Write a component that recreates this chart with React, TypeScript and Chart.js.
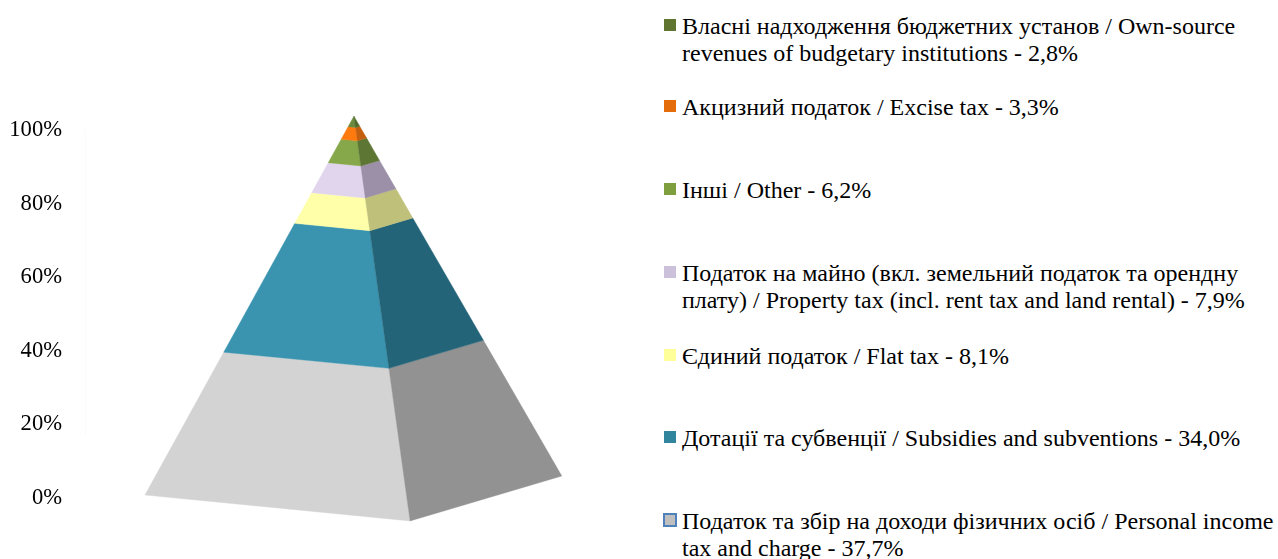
import React, { useEffect, useRef } from "react";
import { Chart, registerables } from "chart.js";

Chart.register(...registerables);

// Bottom of the pyramid first
const categories = [
  "Податок та збір на доходи фізичних осіб / Personal income tax and charge",
  "Дотації та субвенції / Subsidies and subventions",
  "Єдиний податок / Flat tax",
  "Податок на майно (вкл. земельний податок та орендну плату) / Property tax (incl. rent tax and land rental)",
  "Інші / Other",
  "Акцизний податок / Excise tax",
  "Власні надходження бюджетних установ / Own-source revenues of budgetary institutions",
];
const shares = [37.7, 34.0, 8.1, 7.9, 6.2, 3.3, 2.8];
const legendLines = [
  ["Податок та збір на доходи фізичних осіб / Personal income", "tax and charge - 37,7%"],
  ["Дотації та субвенції / Subsidies and subventions - 34,0%"],
  ["Єдиний податок / Flat tax - 8,1%"],
  ["Податок на майно (вкл. земельний податок та орендну", "плату) / Property tax (incl. rent tax and land rental) - 7,9%"],
  ["Інші / Other - 6,2%"],
  ["Акцизний податок / Excise tax - 3,3%"],
  ["Власні надходження бюджетних установ / Own-source", "revenues of budgetary institutions - 2,8%"],
];
const legendTops = [508, 425, 343, 260, 177, 94, 13];
const frontColors = ["#d3d3d3", "#3a94b0", "#ffffaa", "#e1d5ee", "#86a84a", "#ff7a0e", "#6b8a3e"];
const sideColors = ["#929292", "#246478", "#bfc07a", "#9c90a8", "#5e7633", "#c45f10", "#4f6a2a"];
const swatchColors = ["#bfbfbf", "#31859c", "#ffff99", "#ccc1da", "#7f9f3f", "#e46c0a", "#5f7530"];

// Projection of the 3D pyramid on the plot (x: % of plot width, y: axis %)
const apex = { x: 49.8, y: 103.77 };
const leftCorner = { x: 11.1, y: 0.81 };
const frontCorner = { x: 60.2, y: -6.23 };
const rightCorner = { x: 88.3, y: 5.97 };

const FONT = "'Liberation Serif', 'Times New Roman', serif";

const onEdge = (corner: { x: number; y: number }, level: number) => ({
  x: corner.x + ((apex.x - corner.x) * level) / 100,
  y: corner.y + ((apex.y - corner.y) * level) / 100,
});

function faceDatasets() {
  const out: any[] = [];
  let base = 0;
  shares.forEach((share, i) => {
    const top = i === shares.length - 1 ? 100 : base + share;
    const face = (a: typeof apex, b: typeof apex, color: string, side: string) => ({
      label: `${categories[i]} (${side})`,
      data: [onEdge(a, base), onEdge(b, base), onEdge(b, top), onEdge(a, top)],
      backgroundColor: color,
      borderColor: color,
      showLine: false,
      pointRadius: 0,
      polygon: true,
    });
    out.push(face(leftCorner, frontCorner, frontColors[i], "front"));
    out.push(face(frontCorner, rightCorner, sideColors[i], "side"));
    base = top;
  });
  return out;
}

const polygonPlugin = {
  id: "polygonFaces",
  afterDatasetsDraw(chart: any) {
    const ctx = chart.ctx;
    chart.data.datasets.forEach((ds: any, i: number) => {
      if (!ds.polygon) return;
      const pts = chart.getDatasetMeta(i).data;
      ctx.save();
      ctx.beginPath();
      pts.forEach((p: any, k: number) => (k ? ctx.lineTo(p.x, p.y) : ctx.moveTo(p.x, p.y)));
      ctx.closePath();
      ctx.fillStyle = ds.backgroundColor;
      ctx.fill();
      ctx.strokeStyle = ds.borderColor;
      ctx.lineWidth = 0.4;
      ctx.stroke();
      ctx.restore();
    });
  },
};

export default function App() {
  const ref = useRef<HTMLCanvasElement>(null);

  useEffect(() => {
    document.body.style.margin = "0";
    const chart = new Chart(ref.current!, {
      type: "scatter",
      data: {
        datasets: [
          {
            label: "axis wall",
            data: [{ x: 0, y: 17 }, { x: 0, y: 100 }],
            showLine: true,
            borderColor: "#f6f6f6",
            borderWidth: 1,
            pointRadius: 0,
          },
          ...faceDatasets(),
        ],
      },
      options: {
        responsive: false,
        animation: false,
        layout: { padding: { top: 130, bottom: 61, right: 25, left: 0 } },
        plugins: { legend: { display: false }, tooltip: { enabled: false } },
        scales: {
          x: { type: "linear", display: false, min: 0, max: 100 },
          y: {
            type: "linear",
            min: 0,
            max: 100,
            afterFit: (s: any) => {
              s.width = 85;
            },
            border: { display: false },
            grid: { display: false, drawTicks: false },
            ticks: {
              stepSize: 20,
              padding: 23,
              color: "#000",
              font: { family: FONT, size: 22.6 },
              callback: (v: any) => `${v}%`,
            },
          },
        },
      },
      plugins: [polygonPlugin],
    } as any);
    return () => chart.destroy();
  }, []);

  return (
    <div style={{ position: "absolute", left: 0, top: 0, width: 1278, height: 559, overflow: "hidden", background: "#fff" }}>
      <canvas ref={ref} width={650} height={559} style={{ display: "block" }} />
      {legendLines.map((lines, i) => (
        <div
          key={i}
          style={{
            position: "absolute",
            left: 682,
            top: legendTops[i],
            fontFamily: FONT,
            fontSize: 24,
            lineHeight: "27px",
            color: "#000",
            whiteSpace: "nowrap",
          }}
        >
          <span
            style={{
              position: "absolute",
              left: i === 0 ? -19 : -18,
              top: i === 0 ? 5 : 6,
              width: i === 0 ? 14 : 12,
              height: i === 0 ? 14 : 12,
              boxSizing: "border-box",
              background: swatchColors[i],
              border: i === 0 ? "2px solid #4f81bd" : "none",
            }}
          />
          {lines.map((l, k) => (
            <div key={k}>{l}</div>
          ))}
        </div>
      ))}
    </div>
  );
}
